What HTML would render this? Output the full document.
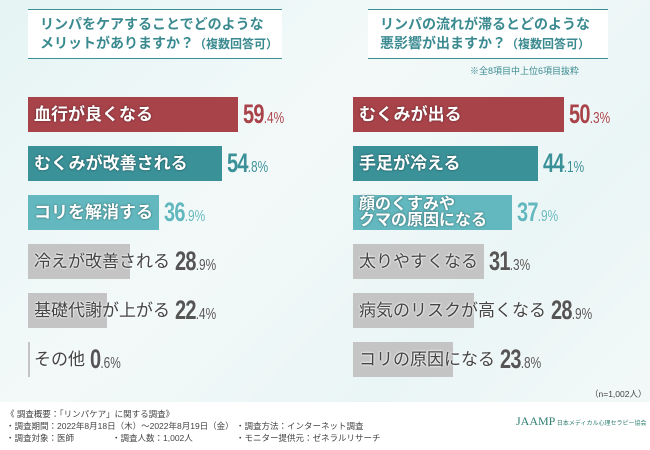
<!DOCTYPE html>
<html><head><meta charset="utf-8">
<style>
html,body{margin:0;padding:0}
body{width:650px;height:450px;overflow:hidden;position:relative;font-family:"Liberation Sans","Noto Sans CJK JP",sans-serif;background:linear-gradient(135deg,#e6f4f4 0%,#f3f9f9 40%,#eaf5f5 70%,#f4f9f9 100%)}
.title{position:absolute;background:#fff;border-top:1.5px solid #3a9198;border-bottom:1.5px solid #3a9198;color:#3a8a90;font-weight:bold;font-size:14px;line-height:19px;box-sizing:border-box;padding:5px 0 0 0}
.title small{font-size:12px}
.bar{position:absolute;height:35px}
.lbl{position:absolute;font-size:17px;font-weight:bold;white-space:nowrap;line-height:19px}
.lbl.white{color:#fff;text-shadow:0 0 2px rgba(0,0,0,.5)}
.lbl.dark{color:#444;font-weight:normal;text-shadow:0 0 2px #fff,0 0 2px #fff}
.val{position:absolute;font-size:27px;font-weight:bold;white-space:nowrap;letter-spacing:-1px;text-shadow:0 0 2px #fff;transform:scaleX(0.74);transform-origin:0 0}
.val span{font-size:16px;font-weight:normal;letter-spacing:0}
.foot{position:absolute;left:0;top:402px;width:650px;height:48px;background:#fff}
.ft{position:absolute;font-size:8.5px;color:#444;white-space:nowrap}
</style></head><body>
<div class="title" style="left:28px;top:9px;width:254px;height:50px;padding-left:12px">リンパをケアすることでどのような<br>メリットがありますか？<small>（複数回答可）</small></div>
<div class="title" style="left:368px;top:9px;width:240px;height:50px;padding-left:12px">リンパの流れが滞るとどのような<br>悪影響が出ますか？<small>（複数回答可）</small></div>
<div class="ft" style="left:470px;top:64px;font-size:9px;color:#3a8a90">※全8項目中上位6項目抜粋</div>
<div id="charts"></div>
<div class="ft" style="left:590px;top:388px">（n=1,002人）</div>
<div class="foot"></div>
<div class="ft" style="left:6px;top:408px;line-height:12px">《 調査概要：「リンパケア」に関する調査》<br>・調査期間：2022年8月18日（木）～2022年8月19日（金）<br>・調査対象：医師</div>
<div class="ft" style="left:112px;top:432px">・調査人数：1,002人</div>
<div class="ft" style="left:236px;top:420px;line-height:12px">・調査方法：インターネット調査<br>・モニター提供元：ゼネラルリサーチ</div>
<div class="ft" style="left:516px;top:414px;color:#2f7f72;font-size:12px;font-family:'Liberation Serif',serif">JAAMP<span style="font-size:6px"> 日本メディカル心理セラピー協会</span></div>
<script>
const leftCats=["血行が良くなる","むくみが改善される","コリを解消する","冷えが改善される","基礎代謝が上がる","その他"];
const leftVals=[59.4,54.8,36.9,28.9,22.4,0.6];
const rightCats=["むくみが出る","手足が冷える","顔のくすみや<br>クマの原因になる","太りやすくなる","病気のリスクが高くなる","コリの原因になる"];
const rightVals=[50.3,44.1,37.9,31.3,28.9,23.8];
const colors=["#a8434a","#3a9198","#62b8be","#c4c4c4","#c4c4c4","#c4c4c4"];
const valColors=["#a8434a","#3a9198","#62b8be","#555","#555","#555"];
const root=document.getElementById('charts');
function draw(cats,vals,x0,scale,side){
  cats.forEach((c,i)=>{
    const y=97+i*49;
    const w=Math.max(2,vals[i]*scale);
    const b=document.createElement('div');
    b.className='bar';
    
    
    b.style.cssText=`left:${x0}px;top:${y}px;width:${w}px;background:${colors[i]}`;
    root.appendChild(b);
    const l=document.createElement('div');
    l.className='lbl '+(i<3?'white':'dark');
    
    
    l.innerHTML=c;
    const two=c.indexOf('<br>')>=0;
    if(two){l.style.fontSize='16px';l.style.lineHeight='16px';}
    l.style.left=(x0+6)+'px';
    l.style.top=(y+(two?2:8))+'px';
    root.appendChild(l);
    const lw=l.getBoundingClientRect().width;
    const v=document.createElement('div');
    v.className='val';
    
    
    const s=vals[i].toFixed(1);const p=s.split('.');
    v.innerHTML=p[0]+'<span>.'+p[1]+'%</span>';
    v.style.color=valColors[i];
    v.style.left=(Math.max(x0+w,x0+6+lw)+5)+'px';
    v.style.top=(y+2)+'px';
    root.appendChild(v);
  });
}
draw(leftCats,leftVals,28,3.54,'left');
draw(rightCats,rightVals,353,4.19,'right');
</script>
</body></html>
